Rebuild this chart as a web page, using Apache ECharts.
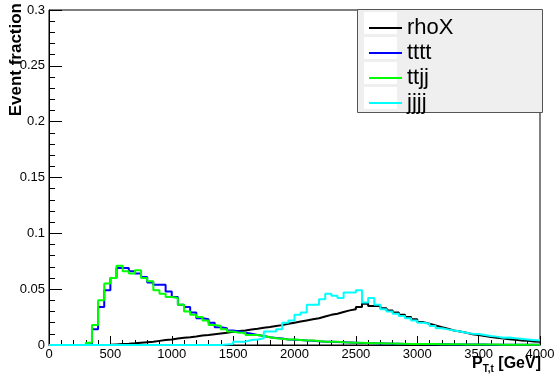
<!DOCTYPE html>
<html>
<head>
<meta charset="utf-8">
<script src="https://cdn.jsdelivr.net/npm/echarts@6/dist/echarts.min.js"></script>
<style>
  html, body { margin: 0; padding: 0; background: #fff; }
  #chart { width: 559px; height: 377px; }
</style>
</head>
<body>
<div id="chart"></div>
<script>
// Binning of the top-quark transverse momentum histograms (GeV)
const binLow = 0;
const binWidth = 50;
const nBins = 80;

// Normalised event fractions per bin
const rhoX = [
  0, 0, 0, 0, 0, 0, 0, 0, 0, 0.0002,
  0.0005, 0.0008, 0.0011, 0.0015, 0.002, 0.0025, 0.003, 0.0037, 0.0044, 0.005,
  0.0058, 0.0065, 0.007, 0.0077, 0.0085, 0.009, 0.0097, 0.0104, 0.011, 0.0118,
  0.0125, 0.013, 0.0138, 0.0145, 0.0155, 0.0162, 0.017, 0.0178, 0.019, 0.020,
  0.021, 0.022, 0.023, 0.024, 0.0255, 0.027, 0.028, 0.0295, 0.031, 0.032,
  0.034, 0.037, 0.035, 0.035, 0.033, 0.031, 0.029, 0.027, 0.025, 0.023,
  0.0205, 0.019, 0.0175, 0.016, 0.0145, 0.013, 0.012, 0.011, 0.0097, 0.009,
  0.008, 0.0072, 0.0065, 0.0058, 0.0052, 0.0046, 0.0041, 0.0037, 0.0032, 0.0028
];
const tttt = [
  0, 0, 0, 0, 0, 0, 0.001, 0.014, 0.034, 0.049,
  0.060, 0.069, 0.069, 0.066, 0.064, 0.061, 0.056, 0.054, 0.054, 0.048,
  0.043, 0.036, 0.034, 0.029, 0.024, 0.023, 0.020, 0.016, 0.015, 0.013,
  0.012, 0.011, 0.010, 0.009, 0.008, 0.007, 0.0062, 0.0058, 0.005, 0.0048,
  0.0044, 0.004, 0.0037, 0.0033, 0.003, 0.0028, 0.0026, 0.0024, 0.0022, 0.002,
  0.0018, 0.0017, 0.0015, 0.0014, 0.0013, 0.0012, 0.0011, 0.001, 0.0009, 0.0009,
  0.0008, 0.0007, 0.0007, 0.0006, 0.0006, 0.0005, 0.0005, 0.0005, 0.0004, 0.0004,
  0.0004, 0.0003, 0.0003, 0.0003, 0.0003, 0.0002, 0.0002, 0.0002, 0.0002, 0.0002
];
const ttjj = [
  0, 0, 0, 0, 0, 0, 0.002, 0.018, 0.040, 0.055,
  0.060, 0.071, 0.066, 0.064, 0.067, 0.060, 0.057, 0.049, 0.046, 0.043,
  0.042, 0.036, 0.030, 0.027, 0.025, 0.022, 0.018, 0.017, 0.014, 0.012,
  0.011, 0.011, 0.009, 0.009, 0.008, 0.007, 0.006, 0.0055, 0.005, 0.005,
  0.0045, 0.004, 0.004, 0.0035, 0.003, 0.003, 0.0028, 0.0025, 0.0023, 0.0021,
  0.002, 0.0018, 0.0016, 0.0015, 0.0014, 0.0013, 0.0012, 0.0011, 0.001, 0.001,
  0.0009, 0.0008, 0.0008, 0.0007, 0.0007, 0.0006, 0.0006, 0.0005, 0.0005, 0.0005,
  0.0004, 0.0004, 0.0004, 0.0003, 0.0003, 0.0003, 0.0003, 0.0002, 0.0002, 0.0002
];
const jjjj = [
  0, 0, 0, 0, 0, 0, 0, 0, 0, 0,
  0, 0, 0, 0, 0, 0, 0, 0, 0, 0,
  0, 0, 0, 0, 0, 0, 0, 0, 0.0005, 0.001,
  0.003, 0.003, 0.0045, 0.005, 0.006, 0.012, 0.012, 0.014, 0.020, 0.022,
  0.027, 0.029, 0.036, 0.036, 0.041, 0.046, 0.044, 0.042, 0.047, 0.047,
  0.049, 0.038, 0.042, 0.036, 0.032, 0.030, 0.028, 0.026, 0.024, 0.022,
  0.020, 0.019, 0.017, 0.015, 0.014, 0.013, 0.012, 0.011, 0.010, 0.0098,
  0.009, 0.008, 0.0075, 0.0065, 0.0068, 0.006, 0.0055, 0.005, 0.0045, 0.004
];

const seriesNames = ['rhoX', 'tttt', 'ttjj', 'jjjj'];
const seriesColors = ['#000000', '#0000ff', '#00ff00', '#00ffff'];
const seriesValues = [rhoX, tttt, ttjj, jjjj];

// Turn bin contents into step points: one per low edge plus the closing upper edge
function histPoints(values) {
  const pts = values.map((v, i) => [binLow + i * binWidth, v]);
  pts.push([binLow + nBins * binWidth, values[values.length - 1]]);
  return pts;
}

const chart = echarts.init(document.getElementById('chart'), null, { renderer: 'canvas' });

const gridLeft = 49, gridRight = 19, gridTop = 10, gridBottom = 32;
const legendTop = 12, legendPitch = 25, legendRow = 22;
const titleFont = 'Liberation Sans';

const option = {
  animation: false,
  backgroundColor: '#ffffff',
  grid: {
    left: gridLeft, right: gridRight, top: gridTop, bottom: gridBottom,
    containLabel: false,
    outerBoundsMode: 'none',
    show: true, borderColor: '#000', borderWidth: 1, backgroundColor: 'transparent'
  },
  xAxis: {
    type: 'value',
    min: 0, max: 4000, interval: 500,
    axisLine: { show: true, onZero: false, lineStyle: { color: '#000', width: 1 } },
    axisTick: { show: true, inside: true, length: 9, lineStyle: { color: '#000' } },
    minorTick: { show: true, splitNumber: 5, length: 5, lineStyle: { color: '#000' } },
    splitLine: { show: false },
    axisLabel: {
      fontFamily: titleFont, fontSize: 13, color: '#000', margin: 3,
      formatter: (v) => String(v)
    }
  },
  yAxis: {
    type: 'value',
    min: 0, max: 0.3, interval: 0.05,
    axisLine: { show: true, onZero: false, lineStyle: { color: '#000', width: 1 } },
    axisTick: { show: true, inside: true, length: 13, lineStyle: { color: '#000' } },
    minorTick: { show: true, splitNumber: 5, length: 6, lineStyle: { color: '#000' } },
    splitLine: { show: false },
    axisLabel: {
      fontFamily: titleFont, fontSize: 13, color: '#000', margin: 4,
      formatter: (v) => String(parseFloat(v.toFixed(2)))
    }
  },
  legend: {
    orient: 'vertical',
    left: 364, top: legendTop,
    itemWidth: 33, itemHeight: 2, itemGap: legendPitch - legendRow,
    icon: 'rect',
    z: 6,
    textStyle: { fontFamily: titleFont, fontSize: 22, lineHeight: legendRow, color: '#000' },
    data: seriesNames,
    backgroundColor: 'transparent'
  },
  graphic: [
    // legend frame
    {
      type: 'rect', z: 3,
      shape: { x: 357.5, y: 9.5, width: 185, height: 103 },
      style: { fill: '#efefef', stroke: '#555555', lineWidth: 1 }
    },
    // axis titles
    {
      type: 'text', z: 6, x: 25, y: 3, rotation: Math.PI / 2,
      style: {
        text: 'Event fraction', align: 'right', verticalAlign: 'bottom',
        fontFamily: titleFont, fontWeight: 'bold', fontSize: 17, fill: '#000'
      }
    },
    {
      type: 'text', z: 6, x: 541, y: 355,
      style: {
        text: '{b|P}{s|T,t}{b| [GeV]}', align: 'right', verticalAlign: 'top',
        rich: {
          b: { fontFamily: titleFont, fontWeight: 'bold', fontSize: 16, fill: '#000', lineHeight: 17 },
          s: { fontFamily: titleFont, fontWeight: 'bold', fontSize: 10, fill: '#000', lineHeight: 17, padding: [11, 0, 0, 0] }
        }
      }
    }
  ].concat(seriesNames.map((n, i) => ({
    // white backing behind each legend line sample
    type: 'rect', z: 4,
    shape: { x: 364, y: legendTop + i * legendPitch, width: 33, height: legendRow },
    style: { fill: '#ffffff' }
  }))),
  series: seriesNames.map((n, i) => ({
    name: n,
    type: 'line',
    step: 'end',
    data: histPoints(seriesValues[i]),
    showSymbol: false,
    symbol: 'none',
    lineStyle: { color: seriesColors[i], width: 2 },
    itemStyle: { color: seriesColors[i] },
    z: 2,
    clip: true
  }))
};

chart.setOption(option);
</script>
</body>
</html>
